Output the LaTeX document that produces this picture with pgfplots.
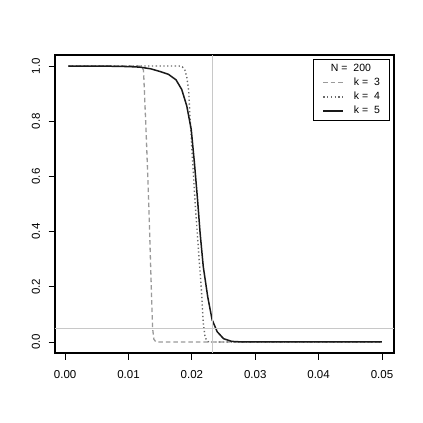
\documentclass[border=0pt]{standalone}
\usepackage{fontspec}
\setmainfont{Liberation Sans}
\usepackage{graphicx}
\usepackage{pgfplots}
\pgfplotsset{compat=1.18}
\definecolor{kthree}{HTML}{9A9A9A}
\definecolor{kfour}{HTML}{6A6A6A}
\definecolor{refl}{HTML}{C8C8C8}
\begin{document}
\begin{tikzpicture}[x=1pt,y=1pt]
\path[use as bounding box] (-55,-70) rectangle (368,353);
\begin{axis}[
  at={(0,0)}, anchor=south west,
  scale only axis, width=339pt, height=298pt,
  xmin=-0.0016, xmax=0.0519, ymin=-0.04, ymax=1.04,
  scaled x ticks=false, scaled y ticks=false,
  axis line style={line width=1.1pt},
  xtick={0,0.01,0.02,0.03,0.04,0.05},
  xticklabels={0.00,0.01,0.02,0.03,0.04,0.05},
  ytick={0,0.2,0.4,0.6,0.8,1.0},
  yticklabels={\rotatebox{90}{0.0},\rotatebox{90}{0.2},\rotatebox{90}{0.4},\rotatebox{90}{0.6},\rotatebox{90}{0.8},\rotatebox{90}{1.0}},
  tick align=outside, major tick length=6.5pt,
  tick style={black, line width=0.9pt},
  xtick pos=bottom, ytick pos=left,
  /pgf/number format/assume math mode=true,
  tick label style={font=\fontsize{11.5}{13}\selectfont},
  xticklabel style={yshift=-7pt},
  yticklabel style={anchor=east, xshift=-5pt},
  legend style={at={(1,1)}, anchor=north east, xshift=-4.7pt, yshift=-4pt,
    draw=black, line width=0.7pt, font=\fontsize{10.5}{12}\selectfont,
    row sep=4pt, inner xsep=9pt, inner ysep=4.5pt,
    nodes={inner sep=0pt, text height=8pt, text depth=2pt}},
  legend cell align=left,
  legend image code/.code={\draw[#1] (0pt,0pt) -- (20pt,0pt);},
]
\addlegendimage{empty legend}
\addlegendentry{\hspace*{-13pt}N = \ 200}
\addplot[kthree, line width=1.3pt, dash pattern=on 4.5pt off 3pt] coordinates {
(0.0005,1) (0.0118,1) (0.0121,0.997) (0.01237,0.985) (0.0128,0.75) (0.0132,0.5)
(0.0135,0.27) (0.0138,0.05) (0.0140,0.01) (0.0143,0.001) (0.0146,0) (0.05,0)};
\addlegendentry{\hspace*{10pt}k = \ 3}
\addplot[kfour, line width=1.4pt, dash pattern=on 1.3pt off 2.5pt] coordinates {
(0.0005,1) (0.018,1) (0.0185,0.997) (0.0189,0.985) (0.0192,0.96) (0.0195,0.91)
(0.0197,0.82) (0.0200,0.70) (0.0205,0.51) (0.02105,0.33) (0.0215,0.19) (0.0218,0.07)
(0.0221,0.015) (0.0226,0.001) (0.023,0) (0.05,0)};
\addlegendentry{\hspace*{10pt}k = \ 4}
\addplot[black!90, line width=1.5pt] coordinates {
(0.0005,1.0) (0.005,1.0) (0.008,0.999) (0.010,0.998) (0.0118,0.996) (0.0135,0.99)
(0.015,0.98) (0.0163,0.97) (0.0175,0.95) (0.0184,0.915) (0.0192,0.855) (0.0199,0.77)
(0.0204,0.65) (0.0209,0.515) (0.0213,0.395) (0.0218,0.273) (0.0225,0.164) (0.0232,0.08)
(0.0240,0.037) (0.0250,0.012) (0.0263,0.002) (0.028,0.0) (0.05,0)};
\addlegendentry{\hspace*{10pt}k = \ 5}
\addplot[refl, line width=0.8pt, forget plot] coordinates {(-0.0016,0.05) (0.0519,0.05)};
\addplot[refl, line width=0.8pt, forget plot] coordinates {(0.0233,-0.04) (0.0233,1.04)};
\end{axis}
\end{tikzpicture}
\end{document}
